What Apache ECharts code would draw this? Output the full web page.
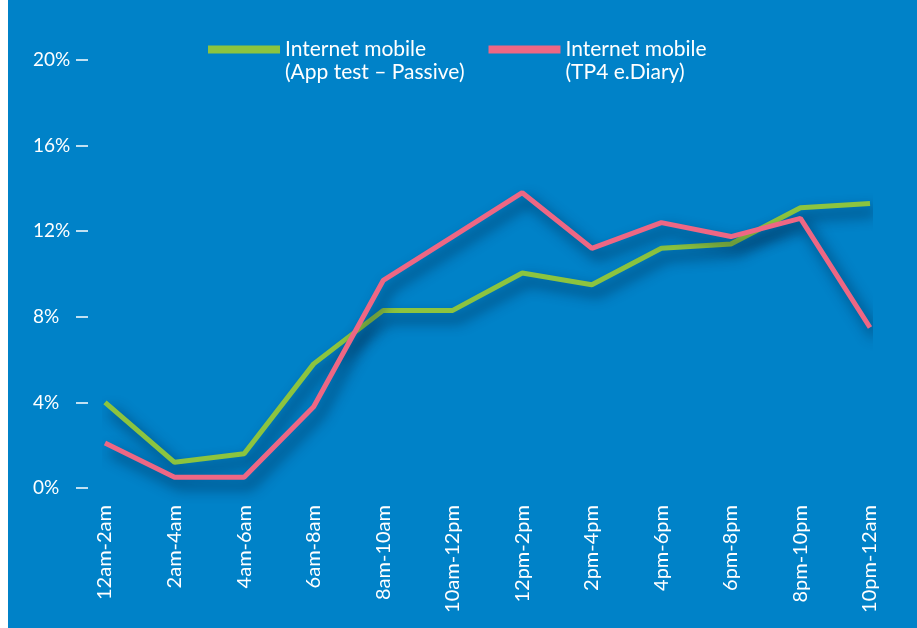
<!DOCTYPE html>
<html>
<head>
<meta charset="utf-8">
<script src="https://cdn.jsdelivr.net/npm/echarts@6/dist/echarts.min.js"></script>
<style>
  html, body { margin: 0; padding: 0; background: #ffffff; }
  #main { position: absolute; left: 8px; top: 0; width: 909px; height: 628px; }
</style>
</head>
<body>
<div id="main"></div>
<script>
// 时间段
var categories = ['12am-2am', '2am-4am', '4am-6am', '6am-8am', '8am-10am', '10am-12pm',
  '12pm-2pm', '2pm-4pm', '4pm-6pm', '6pm-8pm', '8pm-10pm', '10pm-12am'];
// 两条曲线 (%)
var appPassive = [4.0, 1.2, 1.6, 5.8, 8.3, 8.3, 10.05, 9.5, 11.2, 11.4, 13.1, 13.3];
var tp4Diary = [2.1, 0.5, 0.5, 3.8, 9.7, 11.75, 13.8, 11.2, 12.4, 11.75, 12.6, 7.5];
var seriesNames = ['Internet mobile\n(App test – Passive)', 'Internet mobile\n(TP4 e.Diary)'];
var yTicks = [0, 4, 8, 12, 16, 20];

var chart = echarts.init(document.getElementById('main'));

var FONT = 'Lato';
var lineShadow = {
  shadowColor: 'rgba(0, 20, 50, 0.75)',
  shadowBlur: 14,
  shadowOffsetX: 6,
  shadowOffsetY: 8
};

var option = {
  backgroundColor: '#0082c8',
  animation: false,
  textStyle: { fontFamily: FONT },
  legend: {
    top: 10,
    left: 195,
    icon: 'rect',
    itemWidth: 72,
    itemHeight: 8,
    itemGap: 24,
    selectedMode: false,
    //前面加一个空行, 色块就和第一行文字对齐
    formatter: function(name) {
      return ' \n' + name;
    },
    textStyle: {
      color: '#ffffff',
      fontFamily: FONT,
      fontSize: 21,
      lineHeight: 23
    },
    data: seriesNames
  },
  grid: { left: 97, right: 47, top: 60, bottom: 140 },
  xAxis: {
    type: 'category',
    data: categories,
    boundaryGap: false,
    axisLine: { show: false },
    axisTick: { show: false },
    splitLine: { show: false },
    axisLabel: {
      rotate: 90,
      margin: 17,
      color: '#ffffff',
      fontFamily: FONT,
      fontSize: 20
    }
  },
  yAxis: {
    type: 'value',
    min: yTicks[0],
    max: yTicks[yTicks.length - 1],
    interval: 4,
    offset: 17,
    axisLine: { show: false },
    splitLine: { show: false },
    axisTick: { show: true, length: 12, lineStyle: { color: '#ffffff', width: 1.5 } },
    axisLabel: {
      margin: 55,
      align: 'left',
      color: '#ffffff',
      fontFamily: FONT,
      fontSize: 19,
      formatter: '{value}%'
    }
  },
  series: [{
    name: seriesNames[0],
    type: 'line',
    data: appPassive,
    symbol: 'none',
    clip: false,
    color: '#8cc43f',
    lineStyle: Object.assign({ width: 5, color: '#8cc43f' }, lineShadow)
  }, {
    name: seriesNames[1],
    type: 'line',
    data: tp4Diary,
    symbol: 'none',
    clip: false,
    color: '#ee6784',
    lineStyle: Object.assign({ width: 5, color: '#ee6784' }, lineShadow)
  }]
};

chart.setOption(option);
</script>
</body>
</html>
